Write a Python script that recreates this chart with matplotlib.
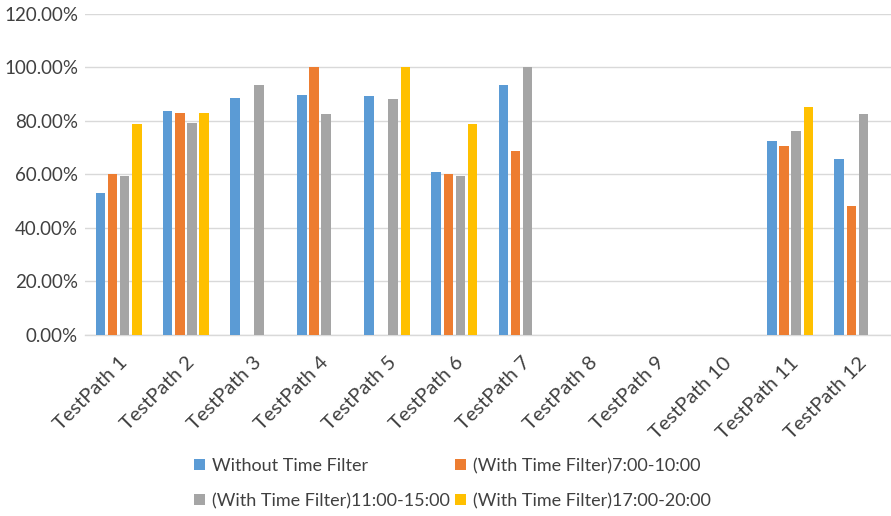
import numpy as np
import matplotlib
matplotlib.use("Agg")
import matplotlib.pyplot as plt
from matplotlib.ticker import FuncFormatter

categories = [f"TestPath {i}" for i in range(1, 13)]
nan = np.nan
without_filter = [0.528, 0.834, 0.883, 0.894, 0.890, 0.607, 0.932, nan, nan, nan, 0.725, 0.656]
filter_7_10 = [0.600, 0.829, nan, 1.000, nan, 0.599, 0.685, nan, nan, nan, 0.705, 0.481]
filter_11_15 = [0.591, 0.789, 0.932, 0.826, 0.879, 0.591, 1.000, nan, nan, nan, 0.762, 0.823]
filter_17_20 = [0.786, 0.829, nan, nan, 1.000, 0.786, nan, nan, nan, nan, 0.850, nan]

series_names = ["Without Time Filter", "(With Time Filter)7:00-10:00",
                "(With Time Filter)11:00-15:00", "(With Time Filter)17:00-20:00"]
series = [without_filter, filter_7_10, filter_11_15, filter_17_20]
colors = ["#5B9BD5", "#ED7D31", "#A5A5A5", "#FFC000"]

plt.rcParams['font.family'] = ['Lato', 'DejaVu Sans']

fig = plt.figure(figsize=(8.91, 5.16), dpi=100)
ax = fig.add_axes([0.0954, 0.3517, 0.9046, 0.6221])

x = np.arange(len(categories))
step = 0.18
width = 0.145
handles = []
for i, (vals, c, name) in enumerate(zip(series, colors, series_names)):
    h = ax.bar(x + (i - 1.5) * step, vals, width, color=c, label=name, zorder=3)
    handles.append(h)

ax.set_xlim(-0.5, len(categories) - 0.5)
ax.set_ylim(0, 1.2)
ax.set_yticks(np.arange(0, 1.21, 0.2))
ax.yaxis.set_major_formatter(FuncFormatter(lambda v, p: f"{v*100:.2f}%"))
ax.grid(axis='y', color='#D9D9D9', linewidth=1, zorder=0)
for s in ['top', 'right', 'left']:
    ax.spines[s].set_visible(False)
ax.spines['bottom'].set_color('#D9D9D9')
ax.spines['bottom'].set_linewidth(1)
ax.tick_params(axis='both', length=0, labelcolor='#404040')
ax.tick_params(axis='y', pad=5, labelsize=13.5)
ax.set_xticks(x)
ax.set_xticklabels(categories, rotation=45, ha='right', rotation_mode='anchor')
ax.tick_params(axis='x', pad=14, labelsize=14.5)

order = [0, 2, 1, 3]
fig.legend([handles[i] for i in order], [series_names[i] for i in order],
           loc='lower center', bbox_to_anchor=(0.508, -0.018),
           ncol=2, frameon=False, fontsize=13, handlelength=0.6, handleheight=0.6,
           handletextpad=0.4, columnspacing=0.3, labelspacing=1.05,
           labelcolor='#404040')

fig.savefig("out.png", dpi=100)
